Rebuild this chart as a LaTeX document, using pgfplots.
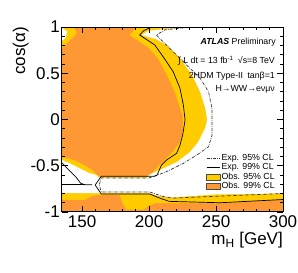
\documentclass[border=0pt]{standalone}
\usepackage{fontspec}
\setmainfont{Liberation Sans}
\usepackage{pgfplots}
\pgfplotsset{compat=1.18}
\definecolor{obsorange}{RGB}{253,152,52}
\definecolor{obsyellow}{RGB}{255,204,0}
\begin{document}
\begin{tikzpicture}[x=1pt,y=1pt]
\begin{axis}[
  at={(0,0)}, anchor=south west,
  width=221pt, height=185pt, scale only axis,
  xmin=135, xmax=300, ymin=-1, ymax=1,
  axis on top,
  xtick={150,200,250,300}, xticklabels={150,200,250,300},
  ytick={-1,-0.5,0,0.5,1}, yticklabels={-1,-0.5,0,0.5,1},
  minor x tick num=4, minor y tick num=4,
  tick align=inside,
  major tick length=6pt, minor tick length=3pt,
  tick style={black, line width=0.6pt},
  axis line style={line width=1pt},
  ticklabel style={font=\fontsize{17}{17}\selectfont},
  xticklabel style={inner sep=0pt, yshift=-3pt},
  yticklabel style={inner sep=0pt, xshift=-2pt},
  xlabel={m\textsubscript{H} [GeV]},
  xlabel style={at={(axis description cs:1,0)}, anchor=base east, yshift=-33pt, inner sep=0pt, font=\fontsize{17}{17}\selectfont},
  ylabel={cos(α)},
  ylabel style={at={(axis description cs:-0.167,1)}, anchor=base east, inner sep=0pt, font=\fontsize{17}{17}\selectfont},
  legend style={at={(rel axis cs:0.652,0.319)}, anchor=north west, draw=none, fill=none,
    font=\fontsize{8.8}{9.3}\selectfont, inner sep=0pt,
    nodes={inner sep=0.6pt, text height=6.4pt, text depth=2pt}},
  legend cell align=left,
]
% background: Obs 99% excluded
\addplot[fill=obsorange, draw=none, forget plot] coordinates {(135,-1) (300,-1) (300,1) (135,1)};
% not excluded at 99% (yellow + white)
\addplot[fill=obsyellow, draw=none, forget plot] coordinates {
 (191,1.0) (185.4,0.914) (193,0.84) (199,0.784) (206.5,0.665) (213.3,0.481) (219.3,0.297)
 (223.1,0.124) (225,0.049) (225,-0.135) (223.1,-0.243) (217.8,-0.351) (210.3,-0.459)
 (204.3,-0.546) (200.5,-0.6) (197,-0.614) (163,-0.614) (161.3,-0.6) (157.5,-0.546)
 (151.5,-0.492) (144,-0.438) (135,-0.405) (135,-0.87) (152,-0.87) (157,-0.83)
 (162,-0.815) (178,-0.815) (180,-0.9) (183,-0.975) (196,-0.975) (200,-0.93) (205,-0.905)
 (253,-0.905) (300,-0.865) (300,1.0)};
\addplot[fill=obsyellow, draw=none, forget plot] coordinates {
 (135,1.0) (144,1.0) (146,0.93) (141,0.86) (135,0.77)};
% not excluded at 95% (white)
\addplot[fill=white, draw=none, forget plot] coordinates {
 (194.5,0.914) (200,0.96) (210,0.975) (222,0.99) (228,1.0) (300,1.0) (300,-0.80)
 (250,-0.81) (215,-0.845) (205,-0.82) (200,-0.795) (190,-0.795) (163,-0.795)
 (135,-0.795) (135,-0.438) (140.2,-0.47) (147.7,-0.524) (155.3,-0.578) (160.6,-0.6)
 (162.8,-0.632) (198,-0.632) (200.5,-0.595) (208,-0.546) (220.8,-0.459) (230.6,-0.351)
 (236.7,-0.243) (241.9,-0.092) (243.4,-0.005) (241.9,0.124) (238.2,0.297) (232.1,0.481)
 (223.1,0.665) (213.3,0.805) (205,0.87)};
\addplot[fill=white, draw=none, forget plot] coordinates {
 (135,0.99) (139,0.95) (137.5,0.88) (135,0.85)};
% Expected 95% CL (dash-dot)
\addplot[black!80, line width=0.7pt, dash pattern=on 3pt off 1.2pt on 0.6pt off 1.2pt, forget plot] coordinates {
 (240,1.0) (225,0.99) (212,0.97) (205.5,0.914) (218,0.733) (228.1,0.589) (238.2,0.445)
 (244.4,0.301) (247,0.121) (247,-0.168) (244.4,-0.294) (235.7,-0.384) (225.6,-0.474)
 (213.1,-0.564) (203,-0.618) (200,-0.632) (164.3,-0.632) (162.8,-0.708) (164.3,-0.784)
 (200.5,-0.784) (210,-0.83) (218,-0.85) (250,-0.83) (300,-0.80)};
% Expected 99% CL (solid)
\addplot[black, line width=0.7pt, forget plot] coordinates {
 (202,1.0) (196,0.96) (193,0.914) (204.3,0.805) (210.5,0.679) (218,0.517) (223.1,0.337)
 (225.6,0.157) (226.9,-0.005) (225.1,-0.168) (223.1,-0.276) (220.6,-0.365) (213.1,-0.438)
 (209.3,-0.492) (206,-0.6) (204,-0.614) (164.3,-0.614) (159.8,-0.708) (164.3,-0.805)
 (200.5,-0.805) (208,-0.85) (215,-0.885) (253,-0.9) (300,-0.865)};
\addplot[black, line width=0.7pt, forget plot] coordinates {
 (135,-0.47) (140.2,-0.546) (145.2,-0.618) (149,-0.69) (152,-0.705) (157.5,-0.705)};
\addplot[black, line width=0.7pt, forget plot] coordinates {(135,-0.705) (152,-0.705)};
% legend
\addlegendimage{legend image code/.code={\draw[black!80, line width=0.7pt, dash pattern=on 3pt off 1.2pt on 0.6pt off 1.2pt] (0pt,0pt) -- (13pt,0pt);}}
\addlegendentry{Exp. 95\% CL}
\addlegendimage{legend image code/.code={\draw[black, line width=0.7pt] (0pt,0pt) -- (13pt,0pt);}}
\addlegendentry{Exp. 99\% CL}
\addlegendimage{legend image code/.code={\draw[fill=obsyellow, draw=black!70, line width=0.6pt] (0pt,-3pt) rectangle (14pt,3pt);}}
\addlegendentry{Obs. 95\% CL}
\addlegendimage{legend image code/.code={\draw[fill=obsorange, draw=black!70, line width=0.6pt] (0pt,-3pt) rectangle (14pt,3pt);}}
\addlegendentry{Obs. 99\% CL}
% texts
\node[anchor=base east, inner sep=0pt, font=\fontsize{8.8}{9}\selectfont] at (rel axis cs:0.968,0.903) {\textbf{\textit{ATLAS}} Preliminary};
\node[anchor=base east, inner sep=0pt, font=\fontsize{8.8}{9}\selectfont] at (rel axis cs:0.964,0.8) {∫ L dt = 13 fb\textsuperscript{-1}\enspace √s=8 TeV};
\node[anchor=base east, inner sep=0pt, font=\fontsize{8.8}{9}\selectfont] at (rel axis cs:0.964,0.724) {2HDM Type-II\enspace tanβ=1};
\node[anchor=base east, inner sep=0pt, font=\fontsize{8.8}{9}\selectfont] at (rel axis cs:0.964,0.649) {H→WW→eνμν};
\end{axis}
\pgfresetboundingbox
\path[use as bounding box] (-62,-61) rectangle (236,212);
\end{tikzpicture}
\end{document}
